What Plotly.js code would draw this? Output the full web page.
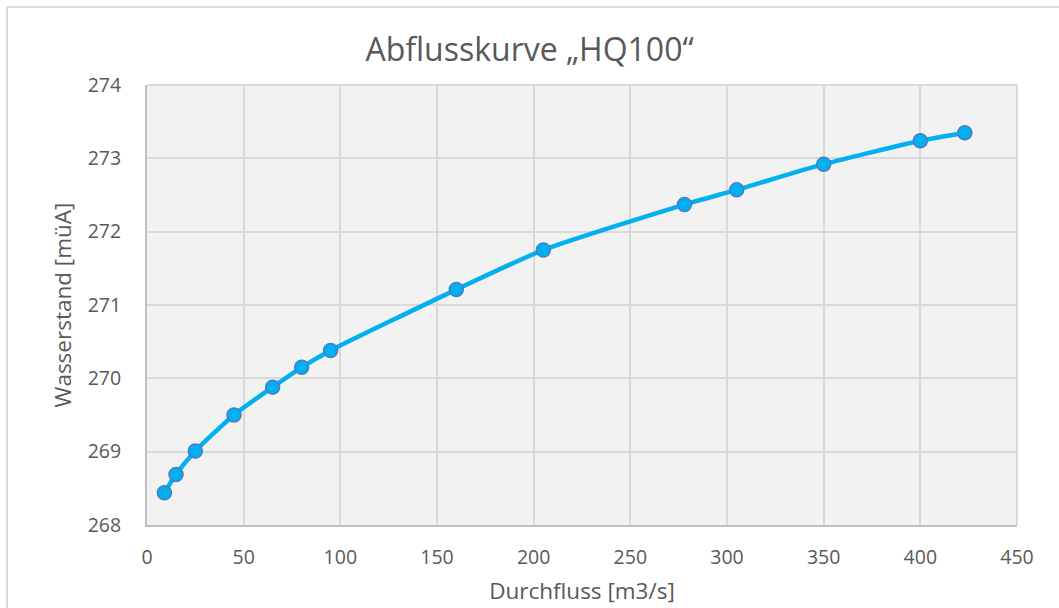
<!DOCTYPE html>
<html>
<head>
<meta charset="utf-8">
<script src="https://cdn.plot.ly/plotly-3.0.1.min.js"></script>
<style>
html,body{margin:0;padding:0;background:#fff;}
#chart{width:1059px;height:608px;}
</style>
</head>
<body>
<div id="chart"></div>
<script>
const discharge = [9, 15, 25, 45, 65, 80, 95, 160, 205, 278, 305, 350, 400, 423];
const waterLevel = [268.44, 268.69, 269.01, 269.50, 269.88, 270.15, 270.38, 271.21, 271.75, 272.37, 272.57, 272.92, 273.24, 273.35];
const xTicks = [0, 50, 100, 150, 200, 250, 300, 350, 400, 450];
const yTicks = [268, 269, 270, 271, 272, 273, 274];

const W = 1059, H = 608;
const M = {l: 147, r: 42, t: 85, b: 83};
const pw = W - M.l - M.r, ph = H - M.t - M.b;
const px = v => (v - M.l) / pw;
const py = v => 1 - (v - M.t) / ph;

const font = "'Open Sans', 'Noto Sans', sans-serif";
const txt = '#595959';

const trace = {
  x: discharge,
  y: waterLevel,
  type: 'scatter',
  mode: 'lines+markers',
  line: {color: '#00B0F0', width: 4.5, shape: 'spline', smoothing: 0.6},
  marker: {color: '#00B0F0', size: 14, line: {color: '#4A7EC2', width: 1.5}},
  hoverinfo: 'x+y'
};

const layout = {
  width: W, height: H,
  margin: M,
  paper_bgcolor: '#FFFFFF',
  plot_bgcolor: '#F2F2F2',
  showlegend: false,
  font: {family: font, color: txt},
  title: {text: 'Abflusskurve „HQ100“', font: {family: font, size: 32, color: txt}, x: 0.5, xanchor: 'center', y: 1 - 50/H, yanchor: 'middle'},
  xaxis: {
    range: [0, 450], tickvals: xTicks, ticktext: xTicks.map(String),
    showgrid: true, gridcolor: '#D9D9D9', gridwidth: 2,
    zeroline: false, showline: true, linecolor: '#BFBFBF', linewidth: 2,
    mirror: false,
    ticks: 'outside', ticklen: 14, tickcolor: 'rgba(0,0,0,0)',
    tickfont: {family: font, size: 19.5, color: txt},
    title: {text: 'Durchfluss [m3/s]', font: {family: font, size: 22.5, color: txt}, standoff: 14}
  },
  yaxis: {
    range: [268, 274], tickvals: yTicks, ticktext: yTicks.map(String),
    showgrid: true, gridcolor: '#D9D9D9', gridwidth: 2,
    zeroline: false, showline: true, linecolor: '#BFBFBF', linewidth: 2,
    ticks: 'outside', ticklen: 20, tickcolor: 'rgba(0,0,0,0)',
    tickfont: {family: font, size: 19.5, color: txt},
    title: {text: 'Wasserstand [müA]', font: {family: font, size: 22.5, color: txt}, standoff: 10}
  },
  shapes: [
    {type: 'line', xref: 'paper', yref: 'paper', x0: px(7), x1: px(1059), y0: py(7), y1: py(7), line: {color: '#D9D9D9', width: 2}},
    {type: 'line', xref: 'paper', yref: 'paper', x0: px(7), x1: px(7), y0: py(7), y1: py(608), line: {color: '#D9D9D9', width: 2}},
    {type: 'line', xref: 'paper', yref: 'paper', x0: 1, x1: 1, y0: 0, y1: 1, line: {color: '#D9D9D9', width: 2}},
    {type: 'line', xref: 'paper', yref: 'paper', x0: 0, x1: 1, y0: 1, y1: 1, line: {color: '#D9D9D9', width: 2}}
  ]
};

Plotly.newPlot('chart', [trace], layout, {displayModeBar: false, staticPlot: true});
</script>
</body>
</html>
